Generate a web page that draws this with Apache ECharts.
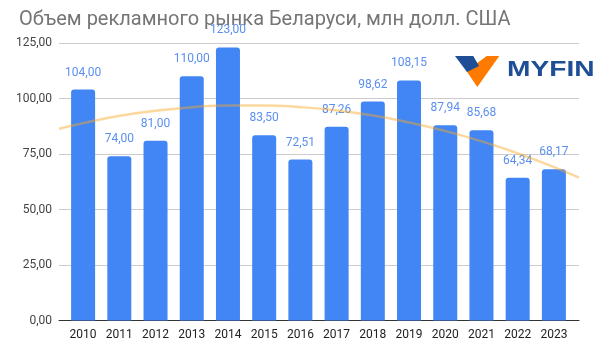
<!DOCTYPE html>
<html>
<head>
<meta charset="utf-8">
<script src="https://cdn.jsdelivr.net/npm/echarts@6/dist/echarts.min.js"></script>
<style>
html,body{margin:0;padding:0;background:#fff;}
#chart{width:615px;height:360px;}
</style>
</head>
<body>
<div id="chart"></div>
<script>
const titleText = 'Объем рекламного рынка Беларуси, млн долл. США';
const years = ['2010','2011','2012','2013','2014','2015','2016','2017','2018','2019','2020','2021','2022','2023'];
const values = [104.00, 74.00, 81.00, 110.00, 123.00, 83.50, 72.51, 87.26, 98.62, 108.15, 87.94, 85.68, 64.34, 68.17];
// trend curve points: [year position, value]
const trendX = [2009.31, 2010, 2011, 2012, 2013, 2014, 2015, 2016, 2017, 2018, 2019, 2020, 2021, 2022, 2023, 2023.69];
const trendY = [86.4, 89.0, 92.2, 94.5, 96.1, 96.9, 96.9, 96.1, 94.6, 92.3, 89.2, 85.3, 80.7, 75.3, 69.1, 64.4];
const yTicks = [0, 25, 50, 75, 100, 125];

const fmt = v => v.toFixed(2).replace('.', ',');
const FONT = 'Roboto, "Liberation Sans", Arial, sans-serif';

const chart = echarts.init(document.getElementById('chart'), null, {renderer: 'canvas'});
chart.setOption({
  animation: false,
  backgroundColor: '#fff',
  title: {
    text: titleText,
    left: 14, top: 5,
    textStyle: {fontFamily: FONT, fontSize: 20, fontWeight: 'normal', color: '#757575'}
  },
  grid: [
    {left: 59, right: 36, top: 43, bottom: 39.5},
    {left: 65, right: 43, top: 43, bottom: 39.5}
  ],
  xAxis: [
    {
      gridIndex: 0, type: 'value', min: trendX[0], max: trendX[trendX.length - 1],
      axisLine: {show: true, lineStyle: {color: '#333', width: 1}},
      axisTick: {show: false}, axisLabel: {show: false}, splitLine: {show: false}
    },
    {
      gridIndex: 1, type: 'category', data: years,
      axisLine: {show: false}, axisTick: {show: false},
      axisLabel: {fontFamily: FONT, fontSize: 12, color: '#222', margin: 8}
    }
  ],
  yAxis: [
    {
      gridIndex: 0, type: 'value', min: yTicks[0], max: yTicks[yTicks.length - 1], interval: 25,
      axisLine: {show: false}, axisTick: {show: false},
      axisLabel: {fontFamily: FONT, fontSize: 12, color: '#444', margin: 7, formatter: v => fmt(v)},
      splitLine: {lineStyle: {color: '#cccccc', width: 1}}
    },
    {
      gridIndex: 1, type: 'value', min: yTicks[0], max: yTicks[yTicks.length - 1], interval: 25,
      show: false
    }
  ],
  series: [
    {
      type: 'bar', xAxisIndex: 1, yAxisIndex: 1,
      data: values, barWidth: 24,
      itemStyle: {color: '#4285F4', borderRadius: [3, 3, 0, 0]},
      label: {
        show: true, position: 'top', distance: 11,
        fontFamily: FONT, fontSize: 12, color: '#5b8ff0',
        formatter: p => fmt(p.value)
      },
      z: 2
    },
    {
      type: 'line', xAxisIndex: 0, yAxisIndex: 0,
      data: trendX.map((x, i) => [x, trendY[i]]),
      smooth: true, symbol: 'none',
      lineStyle: {color: 'rgba(249,168,37,0.45)', width: 2.5},
      z: 3
    }
  ],
  graphic: [
    {
      type: 'polygon', z: 10,
      shape: {points: [[486.7, 56], [499.3, 56], [477.3, 87], [466.5, 71]]},
      style: {fill: '#FF7A00'}
    },
    {
      type: 'polygon', z: 11,
      shape: {points: [[455, 56], [473.3, 56], [479, 66], [467, 72]]},
      style: {fill: '#1F4E96'}
    },
    {
      type: 'text', z: 11, left: 507, top: 59,
      style: {text: 'MYFIN', fill: '#1F4E96', font: 'bold 22px "Liberation Sans", Arial, sans-serif'},
      scaleX: 1.28
    }
  ]
});
</script>
</body>
</html>
